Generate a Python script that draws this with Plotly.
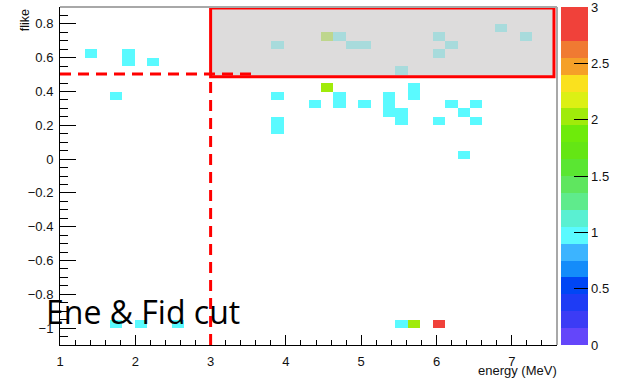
import numpy as np
import plotly.graph_objects as go

# Histogram binning: 40 x 40 bins, energy 1..7.6 MeV, flike -1.1..0.9
E_MIN, E_MAX, N_E = 1.0, 7.6, 40
F_MIN, F_MAX, N_F = -1.1, 0.9, 40

# Filled bins (bin-centre energy in MeV, bin-centre flike, entries)
energy = [1.41, 1.74, 1.91, 1.91, 2.24,
          1.74, 2.07, 2.57, 5.54, 5.70, 6.03,
          3.89, 4.55, 4.71, 4.88, 5.04, 5.54, 6.03, 6.20, 6.03, 6.86, 7.19,
          3.89, 4.55, 4.38, 4.71, 4.71, 5.04, 5.37, 5.37, 5.37, 5.54, 5.54,
          5.70, 5.70, 6.03, 6.20, 6.36, 6.53, 6.53, 3.89, 3.89, 6.36]
flike = [0.625, 0.375, 0.575, 0.625, 0.575,
         -0.975, -0.975, -0.975, -0.975, -0.975, -0.975,
         0.675, 0.725, 0.725, 0.675, 0.675, 0.525, 0.725, 0.675, 0.625, 0.775, 0.725,
         0.375, 0.425, 0.325, 0.325, 0.375, 0.325, 0.275, 0.325, 0.375, 0.225, 0.275,
         0.375, 0.425, 0.225, 0.325, 0.275, 0.325, 0.225, 0.175, 0.225, 0.025]
entries = [1, 1, 1, 1, 1,
           1, 1, 1, 1, 2, 3,
           1, 2, 1, 1, 1, 1, 1, 1, 1, 1, 1,
           1, 2, 1, 1, 1, 1, 1, 1, 1, 1, 1,
           1, 1, 1, 1, 1, 1, 1, 1, 1, 1]

e_edges = np.linspace(E_MIN, E_MAX, N_E + 1)
f_edges = np.linspace(F_MIN, F_MAX, N_F + 1)
counts, _, _ = np.histogram2d(energy, flike, bins=[e_edges, f_edges], weights=entries)
z = counts.T
z[z == 0] = np.nan
e_centres = 0.5 * (e_edges[:-1] + e_edges[1:])
f_centres = 0.5 * (f_edges[:-1] + f_edges[1:])

# 20-level rainbow palette, 0..3
band_colours = ["#6446FA", "#3C3CF5", "#1E3CF5", "#0046F5", "#148CFA",
                "#3CB4FF", "#5AFAFF", "#5AF0D2", "#5FEB8C", "#5FE65F",
                "#5AE632", "#64E614", "#6EEB0A", "#A0EB0A", "#DCF014",
                "#FAE11E", "#F5A028", "#F07A32", "#F0413A", "#F0413A"]
n_band = len(band_colours)
colorscale = []
for i, c in enumerate(band_colours):
    colorscale.append([i / n_band, c])
    colorscale.append([(i + 1) / n_band, c])

cbar_ticks = [0, 0.5, 1, 1.5, 2, 2.5, 3]
cbar_text = ["0", "0.5", "1", "1.5", "2", "2.5", "3"]

AX_FONT = dict(family="Liberation Sans, Arial, sans-serif", size=13, color="#111111")

fig = go.Figure()
fig.add_trace(go.Heatmap(
    x=e_centres, y=f_centres, z=z,
    zmin=0, zmax=3, colorscale=colorscale,
    hoverinfo="skip",
    colorbar=dict(
        x=1.008, xanchor="left", xpad=0, ypad=0,
        y=0.5, yanchor="middle", len=1.0, lenmode="fraction",
        thickness=27, outlinewidth=0,
        tickmode="array", tickvals=cbar_ticks, ticktext=cbar_text,
        ticks="inside", ticklen=14, tickwidth=1, tickcolor="#000000",
        ticklabeloverflow="allow",
        tickfont=AX_FONT,
    ),
))

# Selected region (energy > 3 MeV, flike > 0.5)
SEL_X0, SEL_X1, SEL_Y0, SEL_Y1 = 3.0, 7.56, 0.488, 0.894
CUT_E, CUT_F = 3.0, 0.504

shapes = [
    dict(type="rect", xref="x", yref="y", x0=SEL_X0, x1=SEL_X1, y0=SEL_Y0, y1=SEL_Y1,
         fillcolor="rgba(205,203,204,0.68)", line=dict(color="#FF0000", width=3),
         layer="above"),
    dict(type="line", xref="x", yref="y", x0=CUT_E, x1=CUT_E, y0=F_MIN, y1=SEL_Y0,
         line=dict(color="#FF0000", width=3, dash="11px,7px"), layer="above"),
    dict(type="line", xref="x", yref="y", x0=E_MIN, x1=3.55, y0=CUT_F, y1=CUT_F,
         line=dict(color="#FF0000", width=3, dash="11px,7px"), layer="above"),
    # upper and right frame edges
    dict(type="line", xref="paper", yref="paper", x0=0, x1=1, y0=1, y1=1,
         line=dict(color="#A8A8A8", width=2), layer="above"),
    dict(type="line", xref="paper", yref="paper", x0=1, x1=1, y0=0, y1=1,
         line=dict(color="#A8A8A8", width=2), layer="above"),
]

annotations = [
    dict(text="Ene & Fid cut", xref="paper", yref="paper", x=-0.032, y=0.098,
         xanchor="left", yanchor="middle", showarrow=False,
         font=dict(family="Open Sans, sans-serif", size=32, color="#000000")),
    dict(text="flike", xref="paper", yref="paper", x=-0.07, y=1.0,
         xanchor="center", yanchor="top", textangle=-90, showarrow=False,
         font=dict(family="Liberation Sans, Arial, sans-serif", size=12.5, color="#111111")),
    dict(text="energy (MeV)", xref="paper", yref="paper", x=1.004, y=-0.074,
         xanchor="right", yanchor="middle", showarrow=False,
         font=AX_FONT),
    dict(text="g", xref="paper", yref="paper", x=0.795, y=1.04,
         xanchor="center", yanchor="bottom", showarrow=False,
         font=dict(family="Open Sans, sans-serif", size=30, color="#FF0000")),
]

fig.update_layout(
    width=617, height=378,
    margin=dict(l=60, r=60, t=7, b=33, autoexpand=False),
    paper_bgcolor="white", plot_bgcolor="white",
    shapes=shapes, annotations=annotations,
    showlegend=False,
    xaxis=dict(
        range=[E_MIN, E_MAX], tickmode="linear", tick0=0, dtick=1,
        ticks="inside", ticklen=10, tickwidth=1, tickcolor="#000000",
        minor=dict(dtick=0.2, tick0=0, ticks="inside", ticklen=5, tickwidth=1,
                   tickcolor="#000000"),
        showline=True, linecolor="#000000", linewidth=1, mirror=False,
        showgrid=False, zeroline=False, tickfont=AX_FONT, ticklabelstandoff=4,
    ),
    yaxis=dict(
        range=[F_MIN, F_MAX], tickmode="linear", tick0=0, dtick=0.2,
        ticks="inside", ticklen=16, tickwidth=1, tickcolor="#000000",
        minor=dict(dtick=0.05, tick0=0, ticks="inside", ticklen=8, tickwidth=1,
                   tickcolor="#000000"),
        showline=True, linecolor="#000000", linewidth=1, mirror=False,
        showgrid=False, zeroline=False, tickfont=AX_FONT, ticklabelstandoff=3,
    ),
)

fig.write_html("out.html")
